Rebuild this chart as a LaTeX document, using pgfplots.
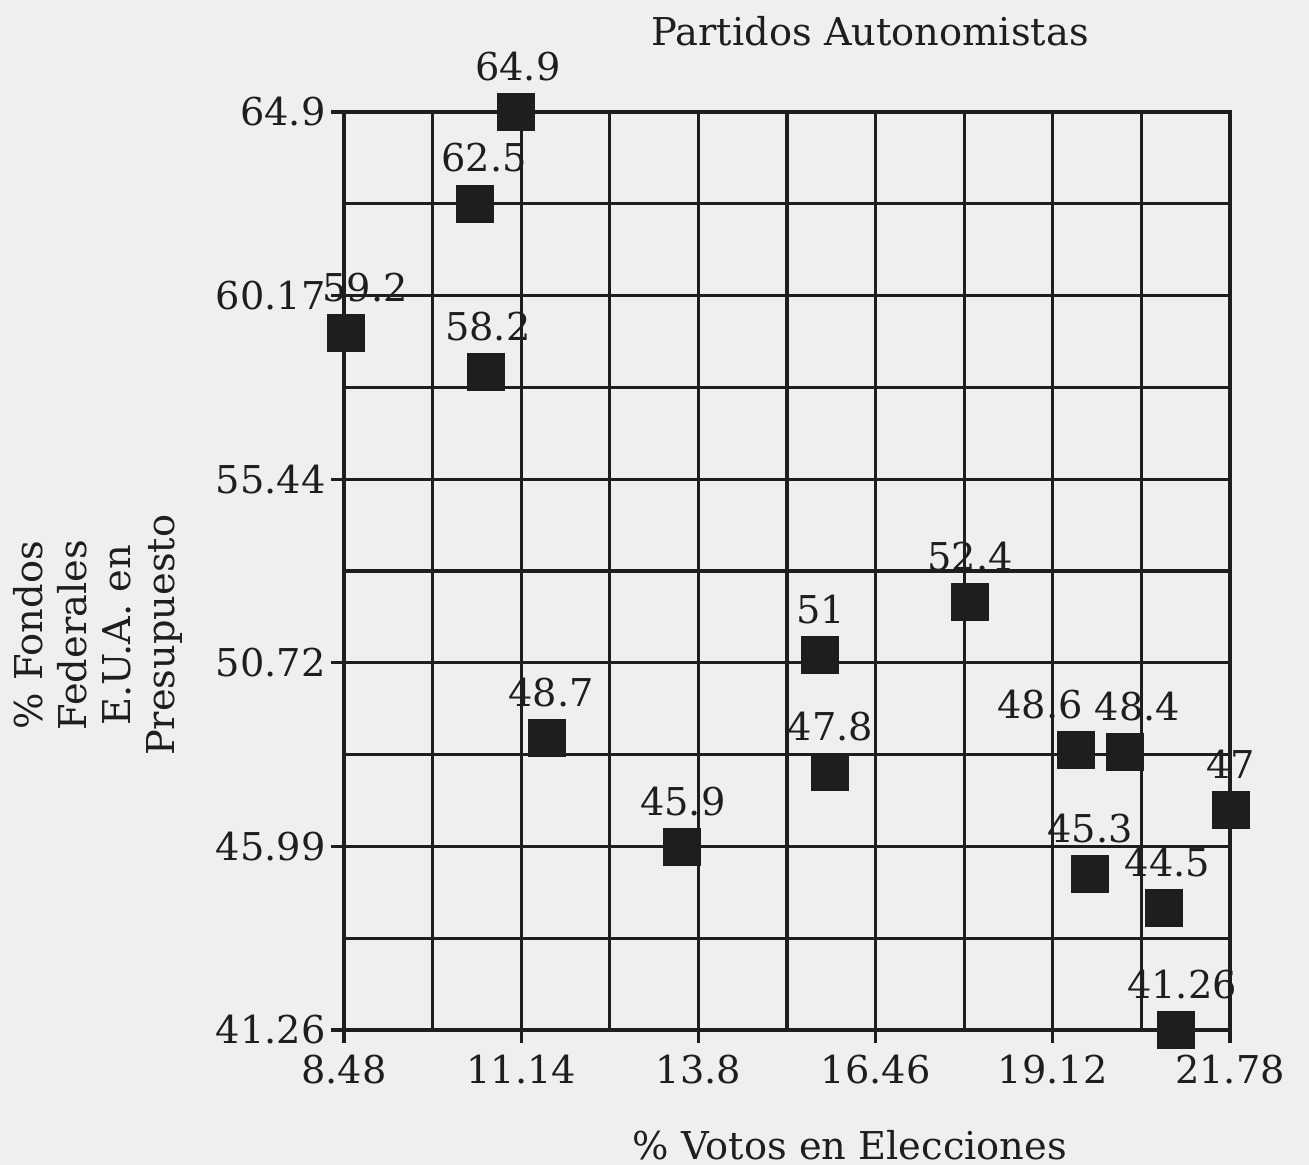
\documentclass[border=0pt]{standalone}
\usepackage{fontspec}
\setmainfont{DejaVu Serif}
\usepackage{pgfplots}
\usepackage{pgfplotstable}
\pgfplotsset{compat=1.18}
\usetikzlibrary{backgrounds}
\definecolor{ink}{HTML}{1E1E1E}
\definecolor{paper}{HTML}{EFEFEF}

\pgfplotstableread{
x      y      label  dx
8.51   59.21  59.2   5.7
11.06  64.90  64.9   0.6
10.45  62.54  62.5   2.7
10.61  58.20  58.2   0.6
11.53  48.78  48.7   1.2
13.55  45.97  45.9   0.3
15.625 50.92  51     0.3
15.78  47.90  47.8   0.0
17.88  52.28  52.4   0.0
19.47  48.47  48.6  -10.8
20.21  48.41  48.4   3.6
21.79  46.93  47     0.0
19.68  45.28  45.3   0.0
20.79  44.41  44.5   1.0
20.97  41.26  41.26  1.8
}\datatable

\begin{document}
\begin{tikzpicture}[font=\fontsize{11.5}{13.8}\selectfont]
\begin{axis}[
  name=ax,
  scale only axis,
  width=265.8pt, height=275.4pt,
  xmin=8.48, xmax=21.78, ymin=41.26, ymax=64.9,
  clip=false,
  axis line style={ink, line width=1pt},
  xtick={8.48,11.14,13.8,16.46,19.12,21.78},
  xticklabels={8.48,11.14,13.8,16.46,19.12,21.78},
  minor xtick={9.81,12.47,15.13,17.79,20.45},
  ytick={41.26,45.99,50.72,55.44,60.17,64.9},
  yticklabels={41.26,45.99,50.72,55.44,60.17,64.9},
  minor ytick={43.624,48.352,53.08,57.808,62.536},
  grid=both,
  major grid style={ink, line width=1pt},
  minor grid style={ink, line width=1pt},
  tick pos=left,
  tick align=outside,
  major tick length=4pt,
  minor tick length=0pt,
  tick style={ink, line width=1pt},
  ticklabel style={font=\fontsize{11.5}{13.8}\selectfont, text=ink},
  yticklabel style={xshift=2pt},
  /pgf/number format/assume math mode=true,
  xlabel={\% Votos en Elecciones},
  xlabel style={at={(axis description cs:0.571,-0.125)}, anchor=center, text=ink},
  ylabel={\% Fondos\\Federales\\E.U.A. en\\Presupuesto},
  ylabel style={at={(axis description cs:-0.278,0.43)}, anchor=center, align=center, text=ink, font=\fontsize{11.5}{13.2}\selectfont},
  title={Partidos Autonomistas},
  title style={at={(axis description cs:0.594,1.066)}, anchor=center, text=ink},
]
\addplot[
  only marks, mark=square*, mark size=5.5pt,
  mark options={fill=ink, draw=ink},
  point meta=explicit symbolic,
  visualization depends on={\thisrow{dx} \as \dx},
  nodes near coords,
  nodes near coords style={anchor=base, inner sep=0pt, yshift=9.5pt, xshift=\dx pt, text=ink},
] table[x=x, y=y, meta=label] {\datatable};
\end{axis}
\pgfresetboundingbox
\path (ax.south west) ++(-103.2pt,-40.5pt) rectangle ++(392.7pt,349.5pt);
\begin{scope}[on background layer]
\fill[paper] (ax.south west) ++(-103.2pt,-40.5pt) rectangle ++(392.7pt,349.5pt);
\end{scope}
\end{tikzpicture}
\end{document}
